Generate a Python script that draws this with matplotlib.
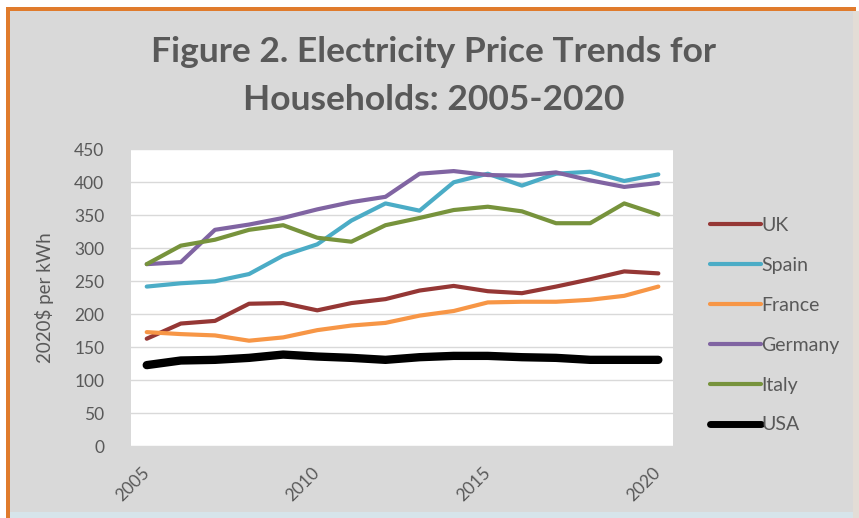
import matplotlib
matplotlib.use("Agg")
import matplotlib.pyplot as plt
from matplotlib.patches import Rectangle
from matplotlib.lines import Line2D

years = list(range(2005, 2021))
uk = [163, 186, 190, 216, 217, 206, 217, 223, 236, 243, 235, 232, 242, 253, 265, 262]
spain = [242, 247, 250, 261, 289, 306, 342, 368, 357, 400, 413, 395, 413, 416, 402, 412]
france = [173, 170, 168, 160, 165, 176, 183, 187, 198, 205, 218, 219, 219, 222, 228, 242]
germany = [276, 279, 328, 336, 346, 359, 370, 378, 413, 417, 411, 410, 415, 403, 393, 399]
italy = [276, 304, 313, 328, 335, 316, 310, 335, 346, 358, 363, 356, 338, 338, 368, 351]
usa = [123, 130, 131, 134, 139, 136, 134, 131, 135, 137, 137, 135, 134, 131, 131, 131]

series_names = ["UK", "Spain", "France", "Germany", "Italy", "USA"]
series_values = [uk, spain, france, germany, italy, usa]
colors = ["#953735", "#4bacc6", "#f79646", "#8064a2", "#77933c", "#000000"]
widths = [3.0, 3.0, 3.0, 3.0, 3.0, 6.0]

x_ticks = [2005, 2010, 2015, 2020]
y_ticks = list(range(0, 451, 50))

title_line1 = "Figure 2. Electricity Price Trends for"
title_line2 = "Households: 2005-2020"
y_label = "2020$ per kWh"

W, H = 859, 518
plt.rcParams['font.family'] = ['Lato', 'DejaVu Sans']
fig = plt.figure(figsize=(W / 100, H / 100), dpi=100, facecolor="white")

def px_rect(x0, y0, x1, y1, color):
    fig.patches.append(Rectangle((x0 / W, 1 - y1 / H), (x1 - x0) / W, (y1 - y0) / H,
                                 transform=fig.transFigure, facecolor=color,
                                 edgecolor="none", zorder=-10))

# background panels
px_rect(10, 11, 853, 512, "#d9d9d9")
px_rect(10, 512, 859, 518, "#d6e4ea")
px_rect(853, 11, 859, 518, "#e3ddd6")
px_rect(6, 7, 856, 11, "#e07b2c")
px_rect(6, 7, 10, 518, "#e07b2c")

text_gray = "#595959"

ax = fig.add_axes([130.7 / W, 1 - 446.3 / H, (673 - 130.7) / W, (446.3 - 149.3) / H])
ax.set_zorder(2)
ax.set_facecolor("white")
for name, vals, c, lw in zip(series_names, series_values, colors, widths):
    ax.plot(years, vals, color=c, lw=lw, label=name, solid_capstyle="round",
            solid_joinstyle="round")

ax.set_xlim(2004.53, 2020.43)
ax.set_ylim(0, 450)
ax.set_yticks(y_ticks)
ax.set_xticks(x_ticks)
ax.grid(axis="y", color="#d9d9d9", lw=1)
ax.set_axisbelow(True)
for s in ax.spines.values():
    s.set_visible(False)
ax.tick_params(axis="both", length=0, colors=text_gray, labelsize=12.5)
ax.tick_params(axis="y", pad=19)
ax.tick_params(axis="x", pad=17)
for lab in ax.get_xticklabels():
    lab.set_rotation(45)
    lab.set_ha("right")
    lab.set_va("center")
    lab.set_rotation_mode("anchor")
ax.set_ylabel(y_label, color=text_gray, fontsize=13.5)
ax.yaxis.set_label_coords((54 - 130.7) / (673 - 130.7), 0.5)

handles = [Line2D([0], [0], color=c, lw=lw, solid_capstyle="round")
           for c, lw in zip(colors, [3, 3, 3, 3, 3, 5])]
leg = fig.legend(handles, series_names, loc="upper left",
                 bbox_to_anchor=(702 / W, 1 - 209 / H), frameon=False,
                 fontsize=14, labelcolor=text_gray, handlelength=2.65,
                 handletextpad=0.0, labelspacing=1.18, borderaxespad=0)

fig.text(0.505, 1 - 52 / H, title_line1, ha="center", va="center",
         fontsize=25.5, fontweight="bold", color=text_gray)
fig.text(0.505, 1 - 100 / H, title_line2, ha="center", va="center",
         fontsize=25.5, fontweight="bold", color=text_gray)

fig.savefig("out.png", dpi=100, facecolor=fig.get_facecolor())
